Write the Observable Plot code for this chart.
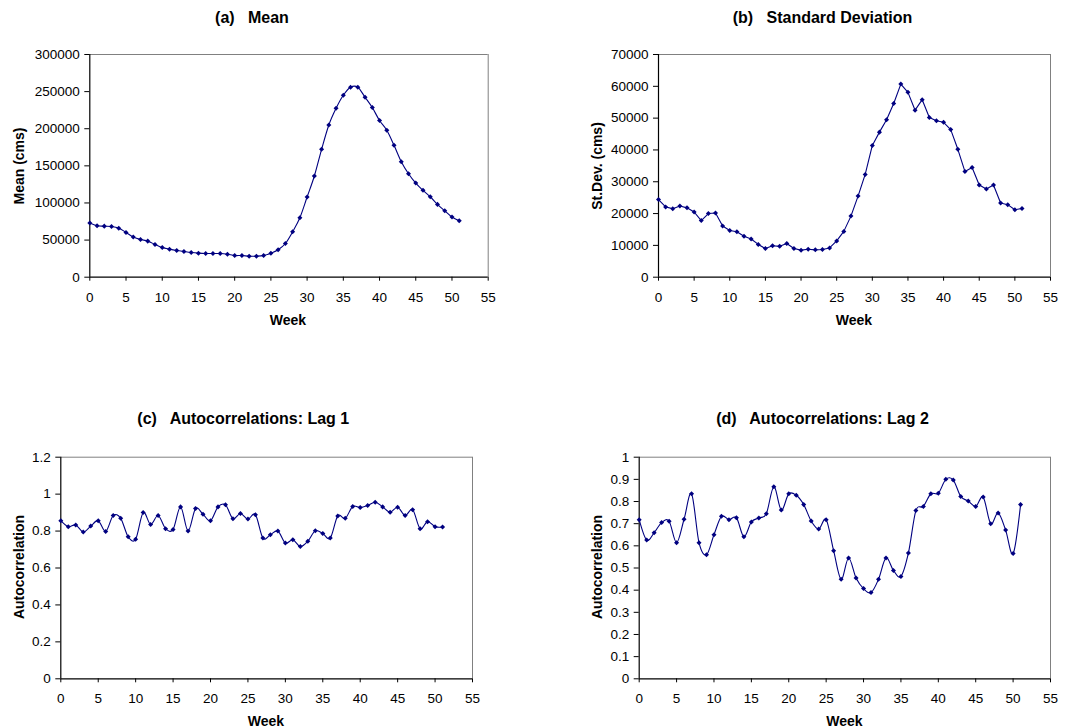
<!DOCTYPE html>
<html><head><meta charset="utf-8">
<script src="https://cdn.jsdelivr.net/npm/d3@7"></script>
<script src="https://cdn.jsdelivr.net/npm/@observablehq/plot@0.6"></script>
<style>
body{margin:0;background:#fff;}
#root{position:relative;width:1080px;height:728px;font-family:Arial,"Liberation Sans",sans-serif;overflow:hidden;background:#fff;color:#000;}
.panel{position:absolute;}
.title{position:absolute;font-weight:bold;font-size:16px;white-space:pre;transform:translate(-50%,-50%);line-height:1.15;}
.xlab{position:absolute;font-weight:bold;font-size:14px;transform:translate(-50%,-50%);line-height:1.15;}
.ylab{position:absolute;font-weight:bold;font-size:14px;transform:translate(-50%,-50%) rotate(-90deg);white-space:nowrap;line-height:1.15;}
</style></head><body><div id="root"></div>
<script>
// ---- data ----
const weeks = [0,1,2,3,4,5,6,7,8,9,10,11,12,13,14,15,16,17,18,19,20,21,22,23,24,25,26,27,28,29,30,31,32,33,34,35,36,37,38,39,40,41,42,43,44,45,46,47,48,49,50,51];
const meanValues = [72900,69300,68800,68400,66100,60300,54000,50800,48600,44100,40000,37800,36000,34600,33300,32400,31900,31900,31900,31000,29200,29200,28300,28300,29200,32400,36900,45400,61200,80100,108000,136300,172300,205100,227600,245100,255900,255900,242400,228500,211000,197900,177700,155600,139400,126800,117000,108400,98100,89500,81000,76000];
const sdValues = [24400,22100,21500,22400,21800,20500,17800,20000,20200,16100,14700,14300,12900,12000,10300,9000,9900,9700,10600,9000,8500,8800,8600,8700,9200,11400,14400,19200,25500,32300,41400,45600,49500,54600,60700,58100,52500,55800,50200,49200,48700,46400,40200,33200,34500,29000,27700,29000,23300,22800,21200,21600];
const lag1Values = [0.856,0.824,0.833,0.795,0.827,0.856,0.798,0.884,0.869,0.769,0.756,0.9,0.836,0.884,0.813,0.809,0.931,0.8,0.922,0.891,0.856,0.931,0.942,0.867,0.895,0.865,0.889,0.762,0.78,0.8,0.735,0.753,0.716,0.745,0.802,0.787,0.762,0.882,0.869,0.933,0.927,0.938,0.956,0.931,0.902,0.929,0.884,0.916,0.813,0.851,0.824,0.822];
const lag2Values = [0.718,0.626,0.659,0.705,0.711,0.614,0.72,0.835,0.614,0.56,0.65,0.733,0.718,0.727,0.641,0.708,0.726,0.745,0.867,0.762,0.835,0.828,0.786,0.712,0.676,0.718,0.578,0.449,0.545,0.455,0.407,0.389,0.449,0.545,0.489,0.462,0.568,0.759,0.778,0.835,0.837,0.9,0.897,0.823,0.802,0.778,0.82,0.7,0.748,0.671,0.565,0.786];

const weekTicks = [0,5,10,15,20,25,30,35,40,45,50,55];
const meanTicks = [0,50000,100000,150000,200000,250000,300000];
const sdTicks = [0,10000,20000,30000,40000,50000,60000,70000];
const lag1Ticks = [0,0.2,0.4,0.6,0.8,1,1.2];
const lag2Ticks = [0,0.1,0.2,0.3,0.4,0.5,0.6,0.7,0.8,0.9,1];

const titles = ["(a)   Mean","(b)   Standard Deviation","(c)   Autocorrelations: Lag 1","(d)   Autocorrelations: Lag 2"];
const yLabels = ["Mean (cms)","St.Dev. (cms)","Autocorrelation","Autocorrelation"];
const xLabel = "Week";

// ---- layout ----
const panels = [
  {values: meanValues, ticks: meanTicks, smooth: true,
   left: 0, top: 0, width: 540, height: 330, ml: 89.3, mr: 52.3, mt: 54, mb: 53.3,
   title: [252, 17.5], xlab: [288, 320], ylab: [19.2, 165.5]},
  {values: sdValues, ticks: sdTicks, smooth: false,
   left: 540, top: 0, width: 540, height: 330, ml: 118, mr: 30, mt: 54, mb: 53.3,
   title: [822.5, 17.5], xlab: [854, 320], ylab: [596.7, 165.5]},
  {values: lag1Values, ticks: lag1Ticks, smooth: true,
   left: 0, top: 364, width: 540, height: 364, ml: 60.3, mr: 68, mt: 92.7, mb: 49.7,
   title: [243.3, 418.5], xlab: [266, 721], ylab: [18.7, 566.7]},
  {values: lag2Values, ticks: lag2Ticks, smooth: true,
   left: 540, top: 364, width: 540, height: 364, ml: 98.7, mr: 30, mt: 92.7, mb: 49.7,
   title: [822.5, 418.5], xlab: [844.5, 721], ylab: [597.2, 566.7]}
];

const root = document.getElementById("root");
const navy = "#000080";

panels.forEach((p, i) => {
  const data = weeks.map((w, j) => ({week: w, v: p.values[j]}));
  const yMax = p.ticks[p.ticks.length - 1];
  const lineOpts = {x: "week", y: "v", stroke: navy, strokeWidth: 1.1};
  if (p.smooth) { lineOpts.curve = "cardinal"; lineOpts.tension = 0; }
  const chart = Plot.plot({
    width: p.width, height: p.height,
    marginLeft: p.ml, marginRight: p.mr, marginTop: p.mt, marginBottom: p.mb,
    x: {domain: [0, 55]},
    y: {domain: [0, yMax]},
    style: {fontFamily: "Arial, 'Liberation Sans', sans-serif", fontSize: "13.5px", color: "#000", background: "transparent", overflow: "visible"},
    marks: [
      Plot.ruleY([yMax], {stroke: "#808080", strokeWidth: 1}),
      Plot.ruleX([55], {stroke: "#808080", strokeWidth: 1}),
      Plot.axisX({ticks: weekTicks, tickSize: 4, tickPadding: 11, tickFormat: d => String(d), label: null, stroke: "#000"}),
      Plot.axisY({ticks: p.ticks, tickSize: 5, tickPadding: 5, tickFormat: d => String(d), label: null, stroke: "#000"}),
      Plot.ruleX([0], {stroke: "#000", strokeWidth: 1.2}),
      Plot.ruleY([0], {stroke: "#000", strokeWidth: 1.2}),
      Plot.line(data, lineOpts),
      Plot.dot(data, {x: "week", y: "v", symbol: "square", r: 2, fill: navy, rotate: 45})
    ]
  });
  const wrap = document.createElement("div");
  wrap.className = "panel";
  wrap.style.left = p.left + "px";
  wrap.style.top = p.top + "px";
  wrap.appendChild(chart);
  root.appendChild(wrap);

  const t = document.createElement("div");
  t.className = "title"; t.textContent = titles[i];
  t.style.left = p.title[0] + "px"; t.style.top = p.title[1] + "px";
  root.appendChild(t);

  const xl = document.createElement("div");
  xl.className = "xlab"; xl.textContent = xLabel;
  xl.style.left = p.xlab[0] + "px"; xl.style.top = p.xlab[1] + "px";
  root.appendChild(xl);

  const yl = document.createElement("div");
  yl.className = "ylab"; yl.textContent = yLabels[i];
  yl.style.left = p.ylab[0] + "px"; yl.style.top = p.ylab[1] + "px";
  root.appendChild(yl);
});
</script>
</body></html>
